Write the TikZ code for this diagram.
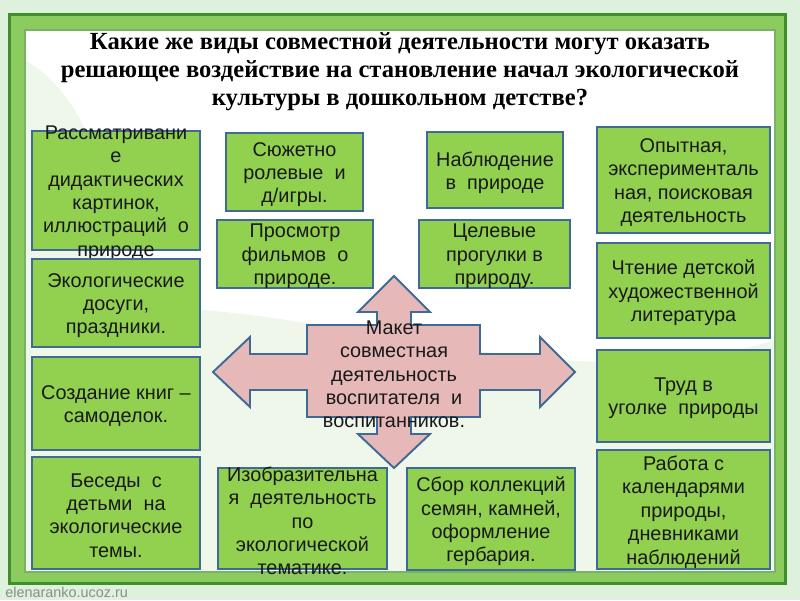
\documentclass[tikz,border=0pt]{standalone}
\usepackage{fontspec}
\setmainfont{Liberation Serif}
\newfontfamily\boxfont{Liberation Sans}
\definecolor{boxgreen}{HTML}{92D050}
\definecolor{boxline}{HTML}{3F6A96}
\definecolor{crosspink}{HTML}{E6B9B8}
\definecolor{mint}{HTML}{DDF1DC}
\definecolor{framedark}{HTML}{3F8F2B}
\definecolor{framelight}{HTML}{8CCB5E}
\definecolor{swirl}{HTML}{EEF7EA}

\begin{document}
\begin{tikzpicture}[x=0.02cm, y=-0.02cm,
  actbox/.style={draw=boxline, fill=boxgreen, line width=1.1pt, inner sep=0pt},
  boxsize/.style 2 args={minimum width=#1*0.02cm, minimum height=#2*0.02cm},
  acttext/.style={font=\boxfont\fontsize{11.3}{13.3}\selectfont, align=center, inner sep=0pt, text=black!90, yshift=-0.05cm},
  crossarrow/.style={draw=boxline, fill=crosspink, line width=1.1pt, line join=miter}]
  \useasboundingbox (0,0) rectangle (800,600);

  % background and frame
  \fill[mint] (0,0) rectangle (800,600);
  \fill[framedark] (8,13) rectangle (787,585);
  \fill[framelight] (11,16) rectangle (784,582);
  \fill[white] (25,30) rectangle (775,572);
  \fill[swirl] (25,330) .. controls (220,250) and (520,420) .. (775,340) -- (775,572) -- (25,572) -- cycle;
  \fill[swirl] (25,60) .. controls (110,110) and (140,260) .. (60,430) -- (25,430) -- cycle;
  \draw[framedark!70, line width=0.8pt] (25,30) rectangle (775,572);
  \node[anchor=west, font=\boxfont\fontsize{8.2}{9}\selectfont, text=black!45, inner sep=0pt] (site) at (5,592) {elenaranko.ucoz.ru};

  % title
  \node[font=\bfseries\fontsize{14}{15.9}\selectfont, align=center, inner sep=0pt] (title) at (400,72)
    {Какие же виды совместной деятельности могут оказать\\решающее воздействие на становление начал экологической\\культуры в дошкольном детстве?};

  % centre cross
  \draw[crossarrow] (394,276) -- (430,312) -- (411,312) -- (411,325) -- (480,325) -- (480,354) -- (540,354)
    -- (540,337) -- (575,372) -- (540,407) -- (540,390) -- (480,390) -- (480,417) -- (411,417) -- (411,434)
    -- (430,434) -- (394,468) -- (358,434) -- (377,434) -- (377,417) -- (307,417) -- (307,390) -- (250,390)
    -- (250,407) -- (213,372) -- (250,337) -- (250,354) -- (307,354) -- (307,325) -- (377,325) -- (377,312)
    -- (358,312) -- cycle;
  \node[acttext] (maket) at (394,372) {Макет\\совместная\\деятельность\\воспитателя~ и\\воспитанников.};

  % left column
  \node[actbox, boxsize={168}{119}] (look) at (116,190.5) {};
  \node[acttext] (look-t) at (look) {Рассматривани\\е\\дидактических\\картинок,\\иллюстраций~ о\\природе};
  \node[actbox, boxsize={168}{88}] (leisure) at (116,303) {};
  \node[acttext] (leisure-t) at (leisure) {Экологические\\досуги,\\праздники.};
  \node[actbox, boxsize={168}{93}] (books) at (116,403.5) {};
  \node[acttext] (books-t) at (books) {Создание книг –\\самоделок.};
  \node[actbox, boxsize={168}{112}] (talks) at (116,513) {};
  \node[acttext] (talks-t) at (talks) {Беседы~ с\\детьми~ на\\экологические\\темы.};

  % second column
  \node[actbox, boxsize={137}{78}] (roleplay) at (294.5,172) {};
  \node[acttext] (roleplay-t) at (roleplay) {Сюжетно\\ролевые~ и\\д/игры.};
  \node[actbox, boxsize={156}{68}] (films) at (295,254) {};
  \node[acttext] (films-t) at (films) {Просмотр\\фильмов~ о\\природе.};
  \node[actbox, boxsize={169}{101}] (drawing) at (302.5,518.5) {};
  \node[acttext] (drawing-t) at (drawing) {Изобразительна\\я~ деятельность\\по\\экологической\\тематике.};

  % third column
  \node[actbox, boxsize={136}{76}] (observe) at (495,170) {};
  \node[acttext] (observe-t) at (observe) {Наблюдение\\в~ природе};
  \node[actbox, boxsize={151}{68}] (walks) at (494.5,254) {};
  \node[acttext] (walks-t) at (walks) {Целевые\\прогулки в\\природу.};
  \node[actbox, boxsize={168}{102}] (collect) at (491,519) {};
  \node[acttext] (collect-t) at (collect) {Сбор коллекций\\семян, камней,\\оформление\\гербария.};

  % right column
  \node[actbox, boxsize={173}{106}] (experiment) at (683.5,180) {};
  \node[acttext] (experiment-t) at (experiment) {Опытная,\\эксперименталь\\ная, поисковая\\деятельность};
  \node[actbox, boxsize={173}{95}] (reading) at (683.5,290.5) {};
  \node[acttext] (reading-t) at (reading) {Чтение детской\\художественной\\литература};
  \node[actbox, boxsize={173}{92}] (labour) at (683.5,396) {};
  \node[acttext] (labour-t) at (labour) {Труд в\\уголке~ природы};
  \node[actbox, boxsize={173}{119}] (calendar) at (683.5,509.5) {};
  \node[acttext] (calendar-t) at (calendar) {Работа с\\календарями\\природы,\\дневниками\\наблюдений};
\end{tikzpicture}
\end{document}
